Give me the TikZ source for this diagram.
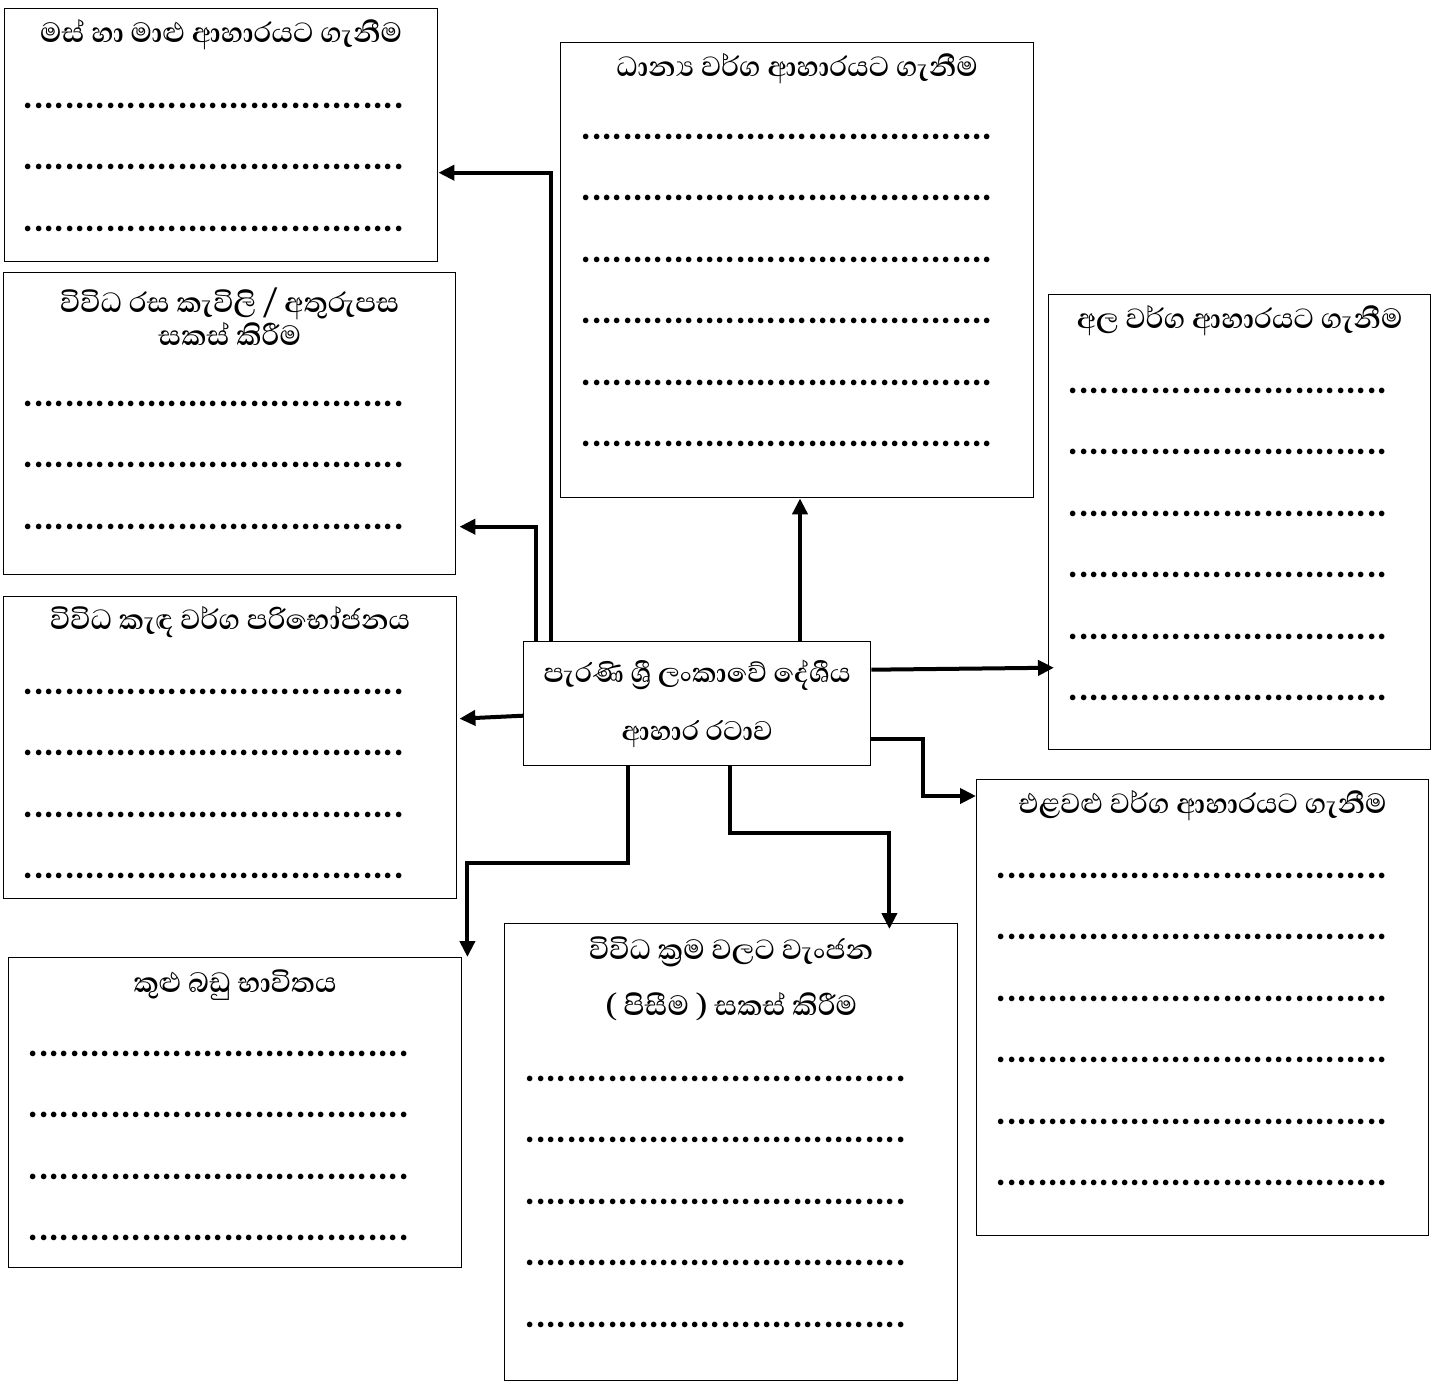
\documentclass[tikz,border=0pt]{standalone}
\usepackage{fontspec}
\usetikzlibrary{arrows.meta}

\newfontfamily\sinhala[Script=Sinhala]{Abhaya Libre}

% a row of dots to write on
\newcommand{\dotrow}[1]{\hbox to #1{\leaders\hbox to 5.15pt{\hss.\hss}\hfill}}

\begin{document}
\begin{tikzpicture}[x=0.5pt, y=-0.5pt,
    box/.style 2 args={draw, line width=0.7pt, inner sep=0pt, anchor=north west,
        minimum width=#1, minimum height=#2},
    title/.style={font=\sinhala\bfseries\fontsize{17.8}{16.5}\selectfont, align=center, inner sep=0pt},
    dots/.style={font=\sinhala\bfseries\fontsize{24}{24}\selectfont, anchor=west, inner sep=0pt},
    conn/.style={line width=2pt, -{Triangle[length=8pt,width=7.5pt]}}
]

    \useasboundingbox (0,0) rectangle (1447,1383);

    % boxes
    \node[box={216.5pt}{126.5pt}] (meat) at (4,8) {};
    \node[box={226pt}{151pt}] (sweets) at (3,272) {};
    \node[box={226.5pt}{151pt}] (porridge) at (3,596) {};
    \node[box={226.5pt}{155pt}] (spices) at (8,957) {};
    \node[box={236.5pt}{227.5pt}] (grains) at (560,42) {};
    \node[box={191pt}{227.5pt}] (yams) at (1048,294) {};
    \node[box={226pt}{228pt}] (vegetables) at (976,779) {};
    \node[box={226.5pt}{228.5pt}] (curries) at (504,923) {};

    \node[box={173.5pt}{62pt}, align=center,
          font=\sinhala\bfseries\fontsize{17.3}{29}\selectfont] (root) at (523,641)
    {පැරණි ශ්^^^^200dරී ලංකාවේ දේශීය\\ආහාර රටාව};

    % titles
    \node[title] (meat-title) at ([yshift=-13.5pt]meat.north)
    {මස් හා මාළු ආහාරයට ගැනීම};
    \node[title] (sweets-title) at ([yshift=-22.25pt]sweets.north)
    {විවිධ රස කැවිලි / අතුරුපස\\සකස් කිරීම};
    \node[title] (porridge-title) at ([yshift=-13pt]porridge.north)
    {විවිධ කැඳ වර්ග පරිභෝජනය};
    \node[title] (spices-title) at ([yshift=-14pt]spices.north)
    {කුළු බඩු භාවිතය};
    \node[title] (grains-title) at ([yshift=-13.5pt]grains.north)
    {ධාන්^^^^200dය වර්ග ආහාරයට ගැනීම};
    \node[title] (yams-title) at ([yshift=-13.5pt]yams.north)
    {අල වර්ග ආහාරයට ගැනීම};
    \node[title] (vegetables-title) at ([yshift=-13.5pt]vegetables.north)
    {එළවළු වර්ග ආහාරයට ගැනීම};
    \node[title, font=\sinhala\bfseries\fontsize{17.8}{28}\selectfont] (curries-title)
        at ([yshift=-28pt]curries.north)
    {විවිධ ක්^^^^200dරම වලට වැංජන\\( පිසීම ) සකස් කිරීම};

    % dotted lines
    \foreach \b/\dx/\dy/\n/\w in {meat/9.5/48.75/2/195, sweets/10/65.75/2/195,
        porridge/10/47.75/3/195, spices/10/48.25/3/195, grains/10.5/47.25/5/211,
        yams/10/48.25/5/163.5, vegetables/10/48.25/5/196, curries/10.5/77.75/4/195}
    {
        \foreach \k in {0,...,\n}
            \node[dots] (\b-\k) at ([xshift=\dx pt, yshift={-\dy pt-30.75pt*\k}]\b.north west)
            {\dotrow{\w pt}};
    }

    % connectors
    \draw[conn] ([xshift=14pt]root.north west) |- ([yshift=-18.75pt]meat.east);
    \draw[conn] ([xshift=6.5pt]root.north west) |- ([xshift=1.5pt,yshift=-51.5pt]sweets.east);
    \draw[conn] ([yshift=-6pt]root.west) -- ([xshift=1pt,yshift=14.5pt]porridge.east);
    \draw[conn] ([xshift=52.5pt]root.south west) -- ++(0,97) -| ([xshift=2.5pt]spices.north east);
    \draw[conn] ([xshift=103.5pt]root.south west) -- ++(0,67) -| ([xshift=-34.5pt,yshift=-3pt]curries.north east);
    \draw[conn] ([yshift=-17.5pt]root.east) -- ++(52,0) |- ([yshift=-8.5pt]vegetables.north west);
    \draw[conn] ([yshift=17pt]root.east) -- ([xshift=3pt,yshift=-72.75pt]yams.west);
    \draw[conn] ([xshift=138.5pt]root.north west) -- ([xshift=120pt]grains.south west);

\end{tikzpicture}
\end{document}
